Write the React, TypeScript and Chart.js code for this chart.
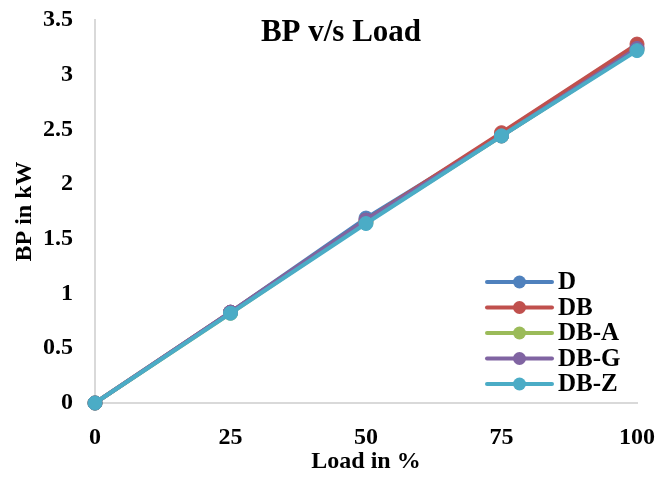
import React, { useEffect, useRef } from "react";
import { Chart, registerables } from "chart.js";

Chart.register(...registerables);

const loadLabels = ["0", "25", "50", "75", "100"];
const seriesNames = ["D", "DB", "DB-A", "DB-G", "DB-Z"];
const seriesColors = ["#4F81BD", "#C0504D", "#9BBB59", "#8064A2", "#4BACC6"];
const valuesD = [0, 0.83, 1.69, 2.45, 3.25];
const valuesDB = [0, 0.83, 1.67, 2.47, 3.28];
const valuesDBA = [0, 0.82, 1.65, 2.44, 3.23];
const valuesDBG = [0, 0.83, 1.67, 2.44, 3.24];
const valuesDBZ = [0, 0.82, 1.64, 2.44, 3.22];
const allValues = [valuesD, valuesDB, valuesDBA, valuesDBG, valuesDBZ];

const FONT = "'Times New Roman', 'Liberation Serif', serif";

const overlayPlugin = {
  id: "overlay",
  afterDraw(chart: any) {
    const ctx = chart.ctx;
    ctx.save();
    // title
    ctx.fillStyle = "#000";
    ctx.font = `bold 31px ${FONT}`;
    ctx.textAlign = "center";
    ctx.textBaseline = "middle";
    ctx.fillText("BP v/s Load", 341, 33);
    // legend
    const rowH = 25.5;
    const top = 282;
    const lineX0 = 487;
    const lineX1 = 552;
    chart.data.datasets.forEach((ds: any, i: number) => {
      const y = top + i * rowH;
      ctx.strokeStyle = ds.borderColor;
      ctx.lineWidth = 4;
      ctx.lineCap = "round";
      ctx.beginPath();
      ctx.moveTo(lineX0, y);
      ctx.lineTo(lineX1, y);
      ctx.stroke();
      ctx.fillStyle = ds.borderColor;
      ctx.beginPath();
      ctx.arc((lineX0 + lineX1) / 2, y, 6.5, 0, Math.PI * 2);
      ctx.fill();
      ctx.fillStyle = "#000";
      ctx.font = `bold 25px ${FONT}`;
      ctx.textAlign = "left";
      ctx.textBaseline = "middle";
      ctx.fillText(ds.label, 558, y + 1);
    });
    ctx.restore();
  },
};

export default function App() {
  const ref = useRef<HTMLCanvasElement>(null);
  useEffect(() => {
    if (!ref.current) return;
    const chart = new Chart(ref.current, {
      type: "line",
      data: {
        labels: loadLabels,
        datasets: seriesNames.map((name, i) => ({
          label: name,
          data: allValues[i],
          borderColor: seriesColors[i],
          backgroundColor: seriesColors[i],
          pointBackgroundColor: seriesColors[i],
          pointBorderColor: seriesColors[i],
          borderWidth: 4,
          pointRadius: 7,
          pointBorderWidth: 1,
          tension: 0,
          order: seriesNames.length - 1 - i,
          clip: false as any,
        })),
      },
      options: {
        responsive: true,
        maintainAspectRatio: false,
        animation: false,
        layout: { padding: { left: 0, right: 20, top: 20, bottom: 0 } },
        plugins: {
          legend: { display: false },
          title: { display: false },
          tooltip: { enabled: false },
        },
        scales: {
          x: {
            type: "category",
            offset: false,
            grid: { display: false },
            border: { display: true, color: "#D9D9D9", width: 2 },
            ticks: {
              color: "#000",
              font: { family: FONT, size: 24, weight: "bold" },
              padding: 12,
              maxRotation: 0,
              autoSkip: false,
            },
            title: {
              display: true,
              text: "Load in %",
              color: "#000",
              font: { family: FONT, size: 24, weight: "bold" },
              padding: { top: 0, bottom: 4 },
            },
            afterFit: (s: any) => {
              s.height = 77;
              s.paddingLeft = 0;
              s.paddingRight = 0;
            },
          },
          y: {
            min: 0,
            max: 3.5,
            grid: { display: false },
            border: { display: true, color: "#D9D9D9", width: 2 },
            ticks: {
              stepSize: 0.5,
              color: "#000",
              font: { family: FONT, size: 24, weight: "bold" },
              padding: 14,
              callback: (v: any) => String(Number(v)),
            },
            title: {
              display: true,
              text: "BP in kW",
              color: "#000",
              font: { family: FONT, size: 24, weight: "bold" },
              padding: { top: 10, bottom: 0 },
            },
            afterFit: (s: any) => {
              s.width = 95;
              s.paddingTop = 0;
              s.paddingBottom = 0;
            },
          },
        },
      },
      plugins: [overlayPlugin],
    });
    return () => chart.destroy();
  }, []);
  return (
    <div style={{ position: "fixed", left: 0, top: 0, width: 657, height: 480, background: "#fff" }}>
      <canvas ref={ref} />
    </div>
  );
}
